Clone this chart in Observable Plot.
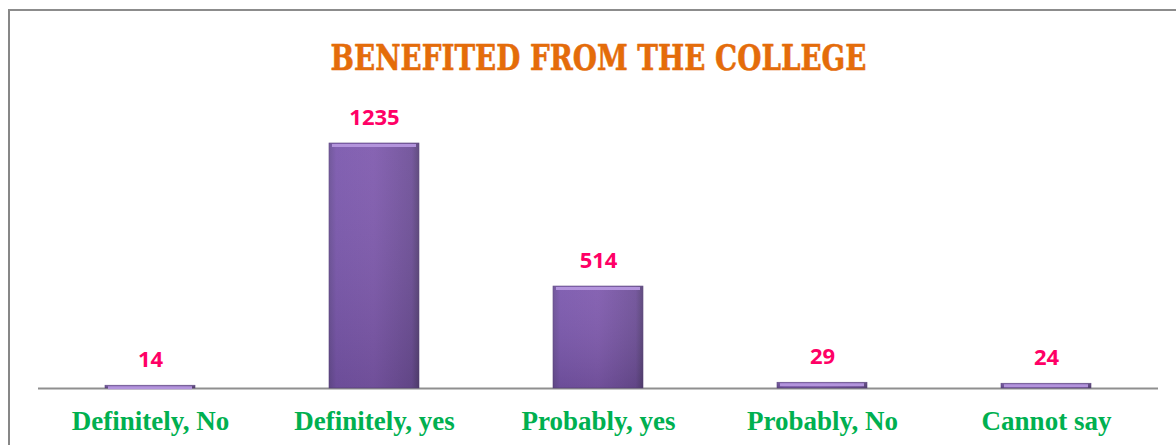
<!DOCTYPE html>
<html>
<head>
<meta charset="utf-8">
<script src="https://cdn.jsdelivr.net/npm/d3@7"></script>
<script src="https://cdn.jsdelivr.net/npm/@observablehq/plot@0.6"></script>
<style>
  html, body { margin: 0; padding: 0; background: #fff; }
  #wrap { position: relative; width: 1176px; height: 445px; overflow: hidden; }
  #border { position: absolute; left: 8px; top: 9px; right: -5px; bottom: -5px;
            border-left: 2px solid #878787; border-top: 2px solid #8c8c8c; pointer-events: none; }
</style>
</head>
<body>
<div id="wrap"><div id="border"></div></div>
<script>
const titleText = "BENEFITED FROM THE COLLEGE";
const categories = ["Definitely, No", "Definitely, yes", "Probably, yes", "Probably, No", "Cannot say"];
const counts = [14, 1235, 514, 29, 24];

const data = categories.map((c, i) => ({category: c, value: counts[i]}));

const defs = () => {
  const svg = d3.create("svg:g");
  const d = svg.append("defs");
  const g = d.append("linearGradient").attr("id", "barGrad").attr("x1", "0").attr("x2", "1").attr("y1", "0").attr("y2", "0");
  g.append("stop").attr("offset", "0").attr("stop-color", "#6a4f96");
  g.append("stop").attr("offset", "0.08").attr("stop-color", "#7a57ad");
  g.append("stop").attr("offset", "0.5").attr("stop-color", "#7f5aae");
  g.append("stop").attr("offset", "0.92").attr("stop-color", "#6e4f98");
  g.append("stop").attr("offset", "1").attr("stop-color", "#584278");
  const v = d.append("linearGradient").attr("id", "shade").attr("x1", "0").attr("x2", "0").attr("y1", "0").attr("y2", "1");
  v.append("stop").attr("offset", "0").attr("stop-color", "#ffffff").attr("stop-opacity", 0.06);
  v.append("stop").attr("offset", "1").attr("stop-color", "#000000").attr("stop-opacity", 0.12);
  return svg.node();
};

const chart = Plot.plot({
  width: 1176,
  height: 445,
  marginLeft: 38,
  marginRight: 18,
  marginTop: 20,
  marginBottom: 57,
  style: {background: "transparent", overflow: "visible"},
  x: {domain: categories, paddingInner: 0.6, paddingOuter: 0.3, axis: null},
  y: {domain: [0, 1855], axis: null},
  marks: [
    defs,
    Plot.ruleY([0], {stroke: "#8f8f8f", strokeWidth: 2}),
    Plot.barY(data, {x: "category", y: "value", fill: "url(#barGrad)", stroke: "#5a437e", strokeWidth: 0.6}),
    Plot.barY(data, {x: "category", y: "value", fill: "url(#shade)"}),
    Plot.tickY(data, {x: "category", y: "value", stroke: "#b394dc", strokeWidth: 3, dy: 2, inset: 3}),
    Plot.text(data, {x: "category", y: "value", text: d => String(d.value), dy: -26,
      fill: "#ff0066", fontSize: 22, fontWeight: "bold", fontFamily: "'Open Sans', sans-serif"}),
    Plot.text(data, {x: "category", y: 0, text: "category", dy: 33,
      fill: "#00b050", fontSize: 27, fontWeight: "bold", fontFamily: "'Liberation Serif', serif"}),
    Plot.text([titleText], {text: d => d, frameAnchor: "top", lineAnchor: "middle", dy: 38,
      fill: "#e46c0a", fontSize: 36, fontWeight: "bold", fontFamily: "'DejaVu Serif', serif",
      stroke: "#e46c0a", strokeWidth: 0.6, className: "chart-title"})
  ]
});
d3.select(chart).selectAll(".chart-title text")
  .attr("textLength", 536).attr("lengthAdjust", "spacingAndGlyphs");
document.getElementById("wrap").prepend(chart);
</script>
</body>
</html>
